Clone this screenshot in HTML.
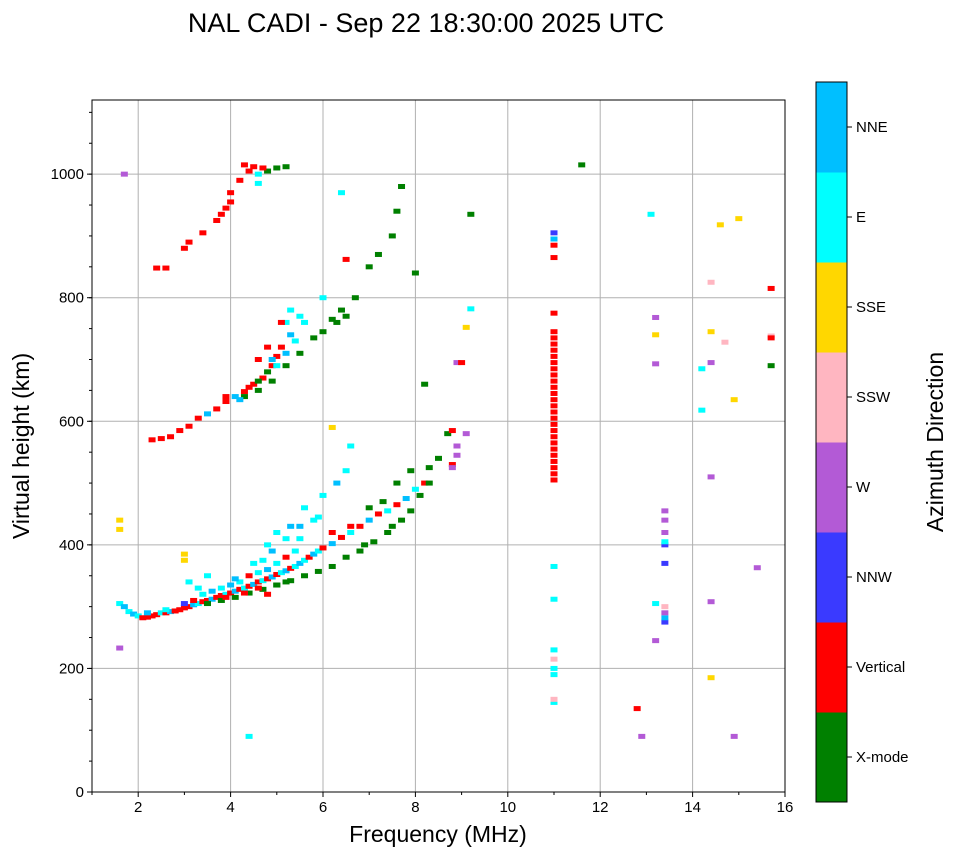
<!DOCTYPE html>
<html><head><meta charset="utf-8"><style>
body{margin:0;background:#fff;font-family:"Liberation Sans","DejaVu Sans",sans-serif}
svg text{font-family:"Liberation Sans","DejaVu Sans",sans-serif}
</style></head><body>
<svg id="c" width="958" height="857" xmlns="http://www.w3.org/2000/svg">
<text x="426" y="32" font-size="27" text-anchor="middle">NAL CADI - Sep 22 18:30:00 2025 UTC</text>
<g id="grid"></g><g id="marks"></g><g id="axes"></g><g id="cbar"></g>
<text x="438" y="842" font-size="23" text-anchor="middle">Frequency (MHz)</text>
<text x="0" y="0" font-size="23" text-anchor="middle" transform="translate(29,446) rotate(-90)">Virtual height (km)</text>
<text x="0" y="0" font-size="23" text-anchor="middle" transform="translate(943,442) rotate(-90)">Azimuth Direction</text>
</svg>
<script>
const categories=["X-mode","Vertical","NNW","W","SSW","SSE","E","NNE"];
const catColors=["#008000","#ff0000","#3a3aff","#b35ad6","#ffb6c1","#ffd700","#00ffff","#00bfff"];
const xTicks=[2,4,6,8,10,12,14,16];
const yTicks=[0,200,400,600,800,1000];
const freqs=[1.6,1.7,1.8,1.9,2.0,2.1,2.2,2.3,2.4,2.5,2.6,2.7,2.8,2.9,3.0,3.1,3.2,3.3,3.4,3.5,3.6,3.7,3.8,3.9,4.0,4.1,4.2,4.3,4.4,4.5,4.6,4.7,4.8,4.9,5.0,5.1,5.2,5.3,5.4,5.5,5.6,5.7,5.8,5.9,6.0,6.2,6.4,6.6,6.8,7.0,7.2,7.4,7.6,7.8,8.0,8.2,
3.5,3.8,4.1,4.4,4.7,5.0,5.3,5.6,5.9,6.2,6.5,6.8,7.1,7.4,7.7,7.9,8.1,8.3,8.5,8.7,
4.5,4.8,5.0,5.3,5.6,6.0,6.3,6.5,6.6,6.2,5.8,5.5,5.2,4.9,
2.3,2.5,2.7,2.9,3.1,3.3,3.5,3.7,3.9,4.1,4.3,4.5,4.7,4.9,5.0,5.1,5.3,5.5,4.9,5.2,
4.3,4.6,4.9,5.2,5.5,5.8,6.0,6.2,6.4,6.7,
2.4,2.6,3.0,3.1,3.4,3.7,3.9,4.0,4.2,4.4,4.6,4.8,5.0,5.2,
7.0,7.2,7.5,7.6,7.7,9.2,8.0,8.2,
11,11,11,11,11,11,11,11,11,11,11,11,11,11,11,11,11,11,11,11,11,11,11,11,11,11,11,11,11,11,11,11,11,11,11,11,11,11,
13.4,13.4,13.4,13.4,13.4,13.4,13.4,13.4,13.4,13.4,
12.8,13.2,13.2,12.9,13.1,13.2,13.2,13.2,14.2,14.2,14.4,14.4,14.4,14.4,14.4,14.4,14.6,14.7,14.9,15.0,14.9,15.4,15.7,15.7,15.7,15.7,
8.8,8.8,8.9,8.9,8.9,9.0,9.1,8.8,8.3,9.2,9.1,4.4,1.7,1.6,1.6,1.6,3.0,3.0,6.4,6.5,11.6,
2.2,2.6,3.0,3.2,3.4,3.6,3.8,4.0,4.2,4.4,4.6,4.8,5.0,5.2,5.4,4.6,4.8,5.0,5.2,3.9,4.3,3.1,3.3,3.5,4.1,4.7,5.5,5.9,6.2,6.6,7.0,7.3,7.6,7.9,7.5,6.9,
3.9,4.2,4.4,4.6,4.8,4.6,4.8,5.0,5.2,5.4,5.6,5.1,5.3,6.3,6.5,6.0,
4.3,4.5,4.7,3.8,4.0,4.6];
const heights=[305,300,292,288,285,282,283,285,287,290,290,292,293,295,298,300,303,305,308,310,312,315,318,320,322,325,328,330,333,336,340,342,345,348,352,355,358,362,365,370,375,380,385,390,395,402,412,420,430,440,450,455,465,475,490,500,
305,310,315,322,328,335,342,350,357,365,380,390,405,420,440,455,480,500,540,580,
370,400,420,430,460,480,500,520,560,590,440,430,410,390,
570,572,575,585,592,605,612,620,632,640,648,660,670,690,705,720,740,770,700,760,
640,650,665,690,710,735,745,765,780,800,
848,848,880,890,905,925,945,955,990,1005,1000,1005,1010,1012,
850,870,900,940,980,935,840,660,
505,515,525,535,545,555,565,575,585,595,605,615,625,635,645,655,665,675,685,695,705,715,725,735,745,775,865,885,895,905,145,150,190,200,215,230,312,365,
275,282,290,300,370,400,405,420,440,455,
135,245,305,90,935,768,740,693,685,618,825,745,695,510,308,185,918,728,635,928,90,363,815,738,735,690,
530,525,560,545,695,695,580,585,525,782,752,90,1000,233,425,440,385,375,970,862,1015,
290,295,305,310,320,325,330,335,340,350,355,360,370,380,390,330,320,335,340,315,322,340,330,350,345,375,410,445,420,430,460,470,500,520,430,400,
640,635,655,665,680,700,720,690,710,730,760,760,780,760,770,800,
1015,1012,1010,935,970,985];
const dirs=[6,7,6,7,6,1,1,1,1,6,1,7,1,1,1,1,7,6,1,1,7,1,1,6,1,7,1,6,1,7,1,6,1,7,1,6,7,1,6,7,6,1,7,6,1,7,1,6,1,7,1,6,1,7,6,1,
0,0,0,0,0,0,0,0,0,0,0,0,0,0,0,0,0,0,0,0,
6,6,6,7,6,6,7,6,6,5,6,7,6,7,
1,1,1,1,1,1,7,1,1,7,1,1,1,1,1,1,7,6,7,6,
0,0,0,0,0,0,0,0,0,0,
1,1,1,1,1,1,1,1,1,1,6,0,0,0,
0,0,0,0,0,0,0,0,
1,1,1,1,1,1,1,1,1,1,1,1,1,1,1,1,1,1,1,1,1,1,1,1,1,1,1,1,7,2,6,4,6,6,4,6,6,6,
2,7,3,4,2,2,6,3,3,3,
1,3,6,3,6,3,5,3,6,6,4,5,3,3,3,5,5,4,5,5,3,3,1,4,1,0,
1,3,3,3,3,1,3,1,0,6,5,6,3,3,5,5,5,5,6,1,0,
7,6,2,1,6,7,6,7,6,1,6,7,6,1,6,1,1,0,0,1,1,6,6,6,7,6,6,6,1,1,0,0,0,0,0,0,
1,7,1,0,0,1,1,6,7,6,6,1,6,0,0,6,
1,1,1,1,1,6];
const NS="http://www.w3.org/2000/svg";
const X0=92,X1=785,Y0=792,Y1=100,XMIN=1,XMAX=16,YMIN=0,YMAX=1120;
const xs=v=>X0+(v-XMIN)/(XMAX-XMIN)*(X1-X0);
const ys=v=>Y0-(v-YMIN)/(YMAX-YMIN)*(Y0-Y1);
function mk(p,t,a){const e=document.createElementNS(NS,t);for(const k in a)e.setAttribute(k,a[k]);p.appendChild(e);return e;}
const grid=document.getElementById('grid'),marks=document.getElementById('marks'),axes=document.getElementById('axes'),cbar=document.getElementById('cbar');
xTicks.forEach(t=>{const x=xs(t);
 const g=mk(grid,'line',{x1:x,x2:x,y1:Y1,y2:Y0,stroke:'#b0b0b0','stroke-width':1});
 
 
 mk(axes,'line',{x1:x,x2:x,y1:Y0,y2:Y0+5,stroke:'#000'});
 const l=mk(axes,'text',{x:x,y:Y0+20,'font-size':15,'text-anchor':'middle'});l.textContent=t;
 
 
});
for(let t=1;t<=16;t+=2){mk(axes,'line',{x1:xs(t),x2:xs(t),y1:Y0,y2:Y0+3,stroke:'#000'});}
yTicks.forEach(t=>{const y=ys(t);
 const g=mk(grid,'line',{x1:X0,x2:X1,y1:y,y2:y,stroke:'#b0b0b0','stroke-width':1});
 
 
 mk(axes,'line',{x1:X0-5,x2:X0,y1:y,y2:y,stroke:'#000'});
 const l=mk(axes,'text',{x:X0-8,y:y+5,'font-size':15,'text-anchor':'end'});l.textContent=t;
 
 
});
for(let t=50;t<YMAX;t+=50){mk(axes,'line',{x1:X0-3,x2:X0,y1:ys(t),y2:ys(t),stroke:'#000'});}
const fr=mk(axes,'rect',{x:X0,y:Y1,width:X1-X0,height:Y0-Y1,fill:'none',stroke:'#000'});


for(let i=0;i<freqs.length;i++){
 const r=mk(marks,'rect',{x:xs(freqs[i])-3.5,y:ys(heights[i])-2.5,width:7,height:5,fill:catColors[dirs[i]]});
 
 
}
const CB0=82,CB1=802,CX=816,CW=31,n=categories.length,ch=(CB1-CB0)/n;
categories.forEach((c,i)=>{const y=CB1-(i+1)*ch;
 const r=mk(cbar,'rect',{x:CX,y:y,width:CW,height:ch+0.5,fill:catColors[i]});
 
 
 mk(cbar,'line',{x1:CX+CW,x2:CX+CW+5,y1:y+ch/2,y2:y+ch/2,stroke:'#000'});
 const l=mk(cbar,'text',{x:CX+CW+9,y:y+ch/2+5,'font-size':15});l.textContent=c;
 
 
});
mk(cbar,'rect',{x:CX,y:CB0,width:CW,height:CB1-CB0,fill:'none',stroke:'#000'});
</script>
</body></html>
